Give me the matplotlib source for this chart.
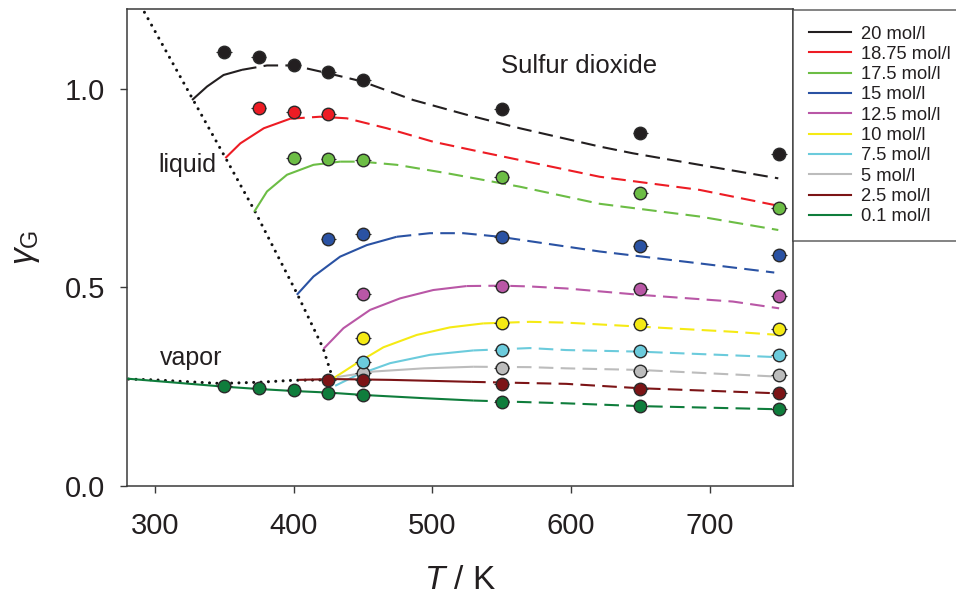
import matplotlib
matplotlib.use("Agg")
import matplotlib.pyplot as plt
from matplotlib.lines import Line2D

plt.rcParams["font.family"] = ["Liberation Sans", "DejaVu Sans"]
plt.rcParams["mathtext.fontset"] = "custom"
plt.rcParams["mathtext.rm"] = "Liberation Sans"
plt.rcParams["mathtext.it"] = "Liberation Sans:italic"

C_AX = "#3a3a3a"
C_TXT = "#231f20"

# --- series (legend order) ---------------------------------------------------
labels = ["20 mol/l", "18.75 mol/l", "17.5 mol/l", "15 mol/l", "12.5 mol/l",
          "10 mol/l", "7.5 mol/l", "5 mol/l", "2.5 mol/l", "0.1 mol/l"]
colors = ["#231f20", "#ed1c24", "#6cbd45", "#2a52a3", "#b957a6",
          "#f5ea14", "#6bcbdc", "#bcbcbc", "#7c1416", "#0f7d3c"]

# simulated curves: temperature, gamma_G and index where solid -> dashed
curve_T = [
    [326.9, 337.7, 349.6, 362.9, 380.9, 400.0, 424.0, 449.2, 486.3, 524.7, 563.1, 620.6, 644.6, 692.6, 749.4],
    [350.9, 361.7, 378.6, 397.6, 419.2, 438.4, 467.2, 500.7, 534.3, 563.1, 620.6, 692.6, 749.4],
    [371.7, 380.9, 395.3, 414.4, 433.6, 449.2, 474.4, 510.4, 563.1, 620.6, 692.6, 749.4],
    [402.4, 414.4, 433.6, 452.8, 474.4, 498.3, 522.3, 548.7, 620.6, 692.6, 746.5],
    [421.6, 436.0, 455.2, 476.8, 500.7, 524.7, 549.9, 570.3, 596.5, 649.4, 716.7, 750.0],
    [428.8, 445.6, 464.8, 488.8, 512.7, 536.7, 570.3, 596.5, 649.4, 716.7, 750.0],
    [430.0, 445.6, 469.6, 498.4, 529.5, 570.3, 596.5, 649.4, 750.0],
    [431.2, 457.9, 493.9, 529.5, 570.3, 596.5, 649.4, 750.0],
    [403.6, 428.8, 469.6, 505.6, 528.0, 596.5, 649.4, 750.0],
    [280.3, 349.7, 374.8, 400.0, 425.2, 450.4, 493.5, 529.5, 596.5, 649.4, 750.0],
]
curve_y = [
    [0.971, 1.005, 1.034, 1.047, 1.058, 1.058, 1.039, 1.018, 0.971, 0.934, 0.900, 0.854, 0.837, 0.808, 0.774],
    [0.825, 0.862, 0.900, 0.924, 0.929, 0.925, 0.900, 0.866, 0.841, 0.820, 0.778, 0.745, 0.705],
    [0.690, 0.741, 0.783, 0.808, 0.816, 0.816, 0.808, 0.787, 0.753, 0.710, 0.678, 0.644],
    [0.481, 0.527, 0.577, 0.606, 0.627, 0.636, 0.636, 0.627, 0.590, 0.560, 0.537],
    [0.345, 0.397, 0.443, 0.472, 0.493, 0.503, 0.504, 0.502, 0.497, 0.481, 0.464, 0.447],
    [0.271, 0.309, 0.349, 0.380, 0.399, 0.409, 0.413, 0.411, 0.401, 0.388, 0.380],
    [0.252, 0.279, 0.309, 0.330, 0.341, 0.347, 0.342, 0.338, 0.324],
    [0.274, 0.288, 0.296, 0.300, 0.299, 0.296, 0.292, 0.275],
    [0.267, 0.269, 0.267, 0.264, 0.262, 0.257, 0.246, 0.233],
    [0.270, 0.250, 0.244, 0.239, 0.235, 0.229, 0.221, 0.215, 0.208, 0.201, 0.193],
]
curve_split = [3, 3, 4, 4, 5, 5, 4, 3, 4, 7]

# experimental points
exp_T = [
    [350, 375, 400, 425, 450, 550, 650, 750],
    [375, 400, 425],
    [400, 425, 450, 550, 650, 750],
    [425, 450, 550, 650, 750],
    [450, 550, 650, 750],
    [450, 550, 650, 750],
    [450, 550, 650, 750],
    [450, 550, 650, 750],
    [425, 450, 550, 650, 750],
    [350, 375, 400, 425, 450, 550, 650, 750],
]
exp_y = [
    [1.093, 1.079, 1.059, 1.041, 1.021, 0.949, 0.887, 0.836],
    [0.950, 0.942, 0.935],
    [0.825, 0.823, 0.820, 0.778, 0.737, 0.699],
    [0.622, 0.633, 0.627, 0.604, 0.580],
    [0.483, 0.503, 0.495, 0.479],
    [0.373, 0.409, 0.407, 0.395],
    [0.313, 0.342, 0.339, 0.330],
    [0.285, 0.296, 0.289, 0.278],
    [0.267, 0.267, 0.257, 0.245, 0.235],
    [0.252, 0.246, 0.241, 0.233, 0.229, 0.212, 0.201, 0.194],
]
T_ERR = 5.5

# coexistence curve (liquid branch then vapor branch)
coex_T = [290.0, 327.4, 350.9, 371.9, 402.7, 421.3, 428.6,
          400.0, 375.0, 347.0, 320.0, 300.0, 280.3]
coex_y = [1.208, 0.973, 0.826, 0.693, 0.483, 0.347, 0.267,
          0.266, 0.261, 0.258, 0.263, 0.267, 0.269]

fig = plt.figure(figsize=(9.56, 5.95), dpi=100)
ax = fig.add_axes([127 / 956, 1 - 486 / 595, 666 / 956, 477 / 595])

ax.plot(coex_T, coex_y, color="#111111", lw=2.2, linestyle=(0, (0.01, 2.4)),
        dash_capstyle="round", zorder=2)

for i in range(len(labels)):
    k = curve_split[i]
    ax.plot(curve_T[i][:k + 1], curve_y[i][:k + 1], color=colors[i], lw=1.5,
            solid_capstyle="butt", zorder=3)
    ax.plot(curve_T[i][k:], curve_y[i][k:], color=colors[i], lw=1.5,
            dashes=(7, 3.5), zorder=3)

mk_z = [6, 6, 6, 6, 6, 6, 6, 5, 6, 6]
for i in range(len(labels)):
    ax.errorbar(exp_T[i], exp_y[i], xerr=T_ERR, fmt="o", ms=9,
                mfc=colors[i], mec="#2a2a2a", mew=1.0, ecolor="#2a2a2a",
                elinewidth=0.8, capsize=0, zorder=mk_z[i])

ax.set_xlim(280, 760)
ax.set_ylim(0, 1.2)
ax.set_xticks([300, 400, 500, 600, 700])
ax.set_yticks([0.0, 0.5, 1.0])
ax.set_yticklabels(["0.0", "0.5", "1.0"])
ax.tick_params(direction="out", length=5, width=1, colors=C_AX,
               labelcolor=C_TXT, labelsize=21)
ax.tick_params(axis="x", pad=14)
ax.tick_params(axis="y", pad=11)
for s in ax.spines.values():
    s.set_color(C_AX)
    s.set_linewidth(1.1)

ax.set_xlabel(r"$\mathit{T}$ / K", fontsize=24, color=C_TXT, labelpad=18)
ax.set_ylabel(r"$\gamma_\mathrm{G}$", fontsize=24, color=C_TXT, labelpad=16)

ax.text(606, 1.057, "Sulfur dioxide", fontsize=18.5, color=C_TXT,
        ha="center", va="center")
ax.text(323.5, 0.808, "liquid", fontsize=18, color=C_TXT,
        ha="center", va="center")
ax.text(326.5, 0.322, "vapor", fontsize=18, color=C_TXT,
        ha="center", va="center")

handles = [Line2D([], [], color=c, lw=1.5) for c in colors]
leg = fig.legend(handles, labels, loc="upper left",
                 bbox_to_anchor=(793 / 956, 1 - 10 / 595),
                 fontsize=13.2, frameon=True, fancybox=False,
                 handlelength=2.3, handletextpad=0.55, labelspacing=0.18,
                 borderpad=0.85, borderaxespad=0)
leg.get_frame().set_edgecolor(C_AX)
leg.get_frame().set_linewidth(1.1)
for t in leg.get_texts():
    t.set_color(C_TXT)

fig.savefig("out.png", dpi=100)
